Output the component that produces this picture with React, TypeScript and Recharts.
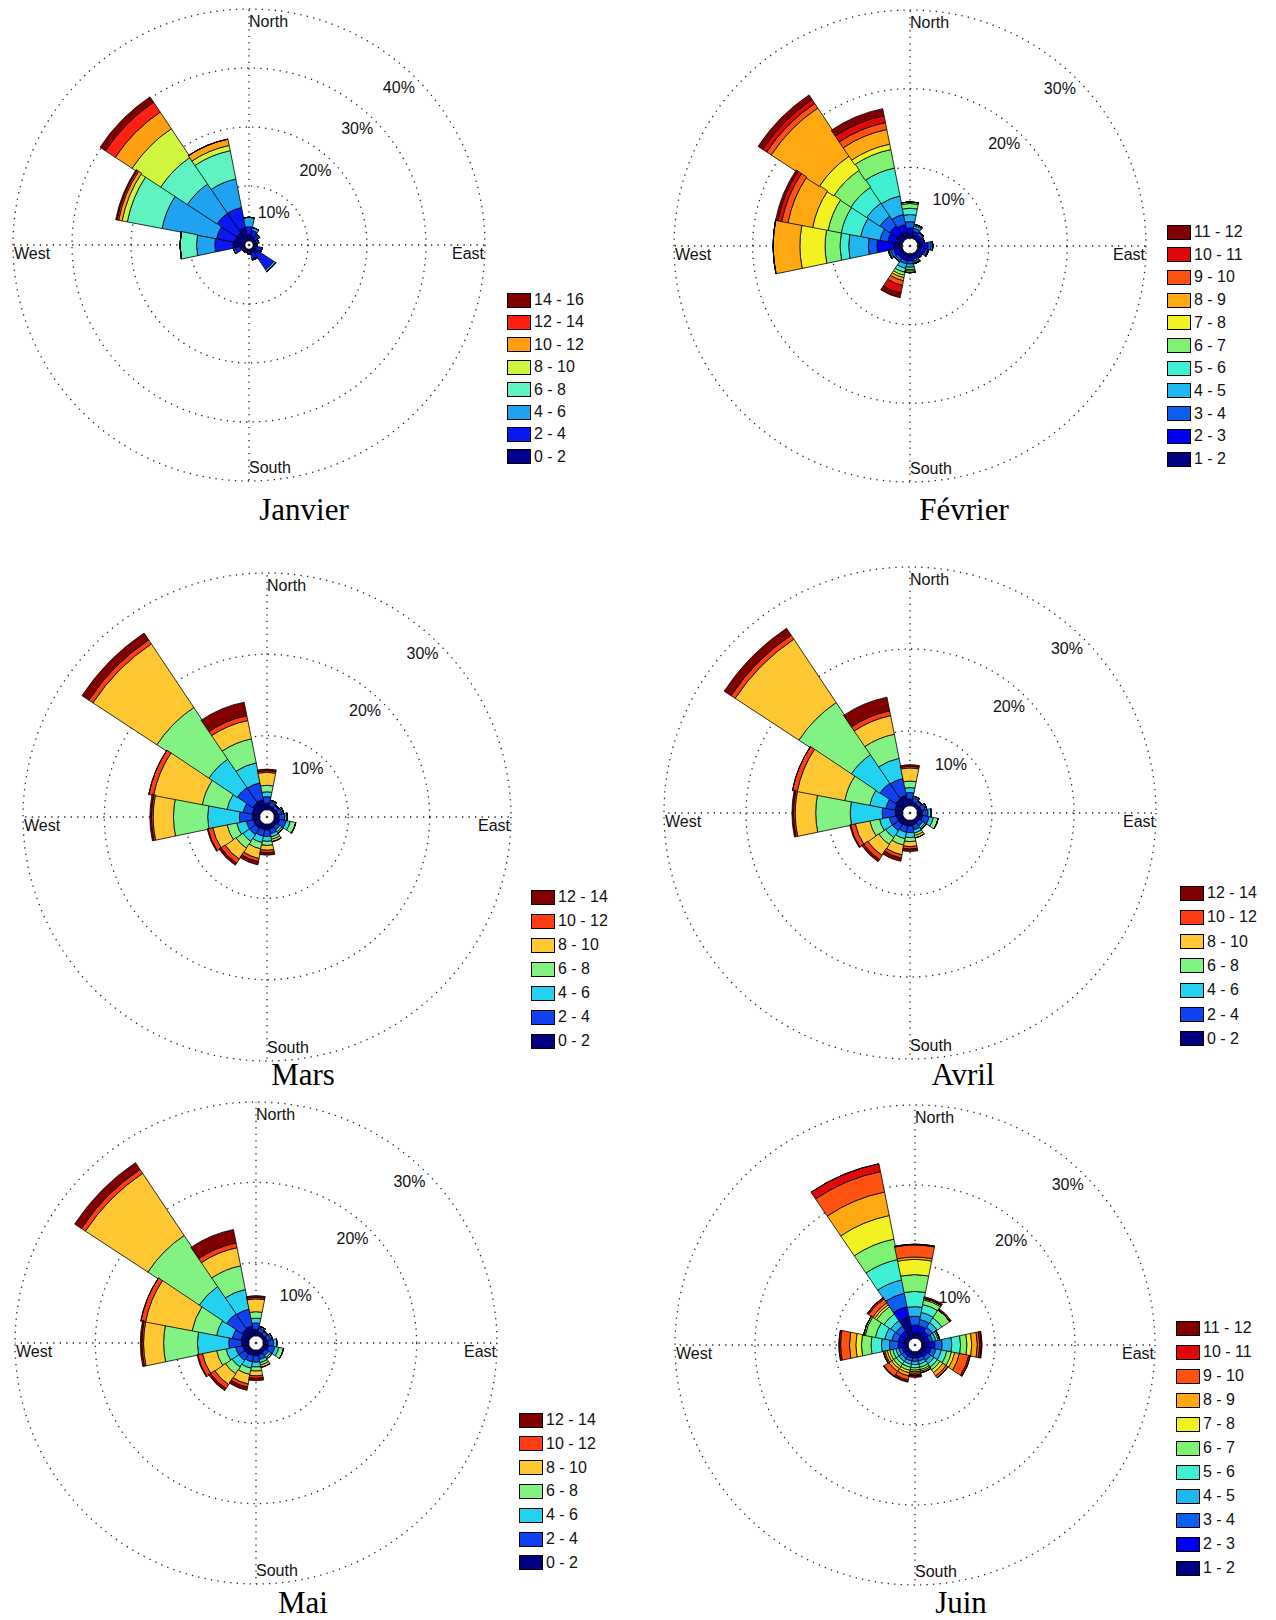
import React from "react";
import {
  RadialBarChart,
  RadialBar,
  PolarGrid,
  PolarAngleAxis,
  PolarRadiusAxis,
} from "recharts";

// 16 secteurs, dans le sens horaire depuis le nord
const directions = ["N", "NNE", "NE", "ENE", "E", "ESE", "SE", "SSE", "S", "SSW", "SW", "WSW", "W", "WNW", "NW", "NNW"];
const compassNames: Record<string, string> = { N: "North", E: "East", S: "South", W: "West" };

// classes de vitesse et couleurs (jet)
const binsJanvier = ["0 - 2", "2 - 4", "4 - 6", "6 - 8", "8 - 10", "10 - 12", "12 - 14", "14 - 16"];
const colorsJanvier = ["#00008c", "#0a18f2", "#1fa2f0", "#5ff3c2", "#cff53e", "#ffa012", "#ff2012", "#800000"];

const binsFevrier = ["1 - 2", "2 - 3", "3 - 4", "4 - 5", "5 - 6", "6 - 7", "7 - 8", "8 - 9", "9 - 10", "10 - 11", "11 - 12"];
const colorsFevrier = ["#000080", "#0000f0", "#0a5ef0", "#20b6f0", "#40f0d2", "#80f272", "#f2f222", "#ffa812", "#ff5212", "#e00808", "#800000"];

const binsMars = ["0 - 2", "2 - 4", "4 - 6", "6 - 8", "8 - 10", "10 - 12", "12 - 14"];
const colorsMars = ["#000080", "#1040f0", "#22d2f0", "#82f282", "#ffc832", "#ff3c12", "#800000"];

const ticks30 = [0, 10, 20, 30];
const ticks40 = [0, 10, 20, 30, 40];

// frequences (%) : une ligne par direction, une colonne par classe
const janvier = [
  [1.0, 1.4, 1.6],
  [0.8, 1.0, 0.5],
  [0.6, 0.7, 0.2],
  [0.5, 0.5],
  [0.4, 0.3],
  [0.5, 0.9, 0.2],
  [1.1, 3.2, 0.4],
  [0.6, 1.1, 0.2],
  [0.4, 0.4],
  [0.3, 0.3],
  [0.4, 0.3],
  [0.8, 0.9, 0.3],
  [2.0, 3.1, 3.1, 2.8],
  [1.8, 3.1, 9.4, 6.0, 0.9, 0.6, 0.3, 0.2],
  [1.8, 4.0, 6.0, 5.4, 5.8, 3.4, 2.0, 1.1],
  [2.3, 3.5, 4.9, 4.9, 0.9, 1.1],
];

const fevrier = [
  [0.6, 0.7, 0.8, 0.9, 0.8, 0.6, 0.2],
  [0.4, 0.5, 0.4, 0.3, 0.2],
  [0.3, 0.4, 0.3, 0.1],
  [0.3, 0.4, 0.2],
  [0.5, 0.8, 0.4, 0.2],
  [0.4, 0.6, 0.3, 0.1],
  [0.3, 0.4, 0.2],
  [0.3, 0.4, 0.3, 0.2, 0.1],
  [0.4, 0.5, 0.4, 0.4, 0.3, 0.2, 0.2],
  [0.4, 0.5, 0.4, 0.6, 0.5, 0.4, 0.3, 0.4, 0.6, 1.0, 0.6],
  [0.4, 0.5, 0.3, 0.2],
  [0.5, 0.6, 0.4, 0.2, 0.1],
  [1.1, 2.1, 1.1, 2.5, 1.1, 1.9, 3.2, 3.4],
  [0.9, 1.0, 1.0, 2.5, 2.5, 1.7, 2.0, 3.2, 0.8, 0.5, 0.3],
  [0.9, 1.2, 1.5, 2.0, 2.4, 2.6, 2.2, 7.3, 0.7, 0.6, 0.7],
  [0.8, 1.0, 1.3, 2.4, 3.6, 2.4, 0.7, 1.9, 0.9, 0.9, 0.9],
];

const mars = [
  [0.8, 0.8, 0.6, 0.8, 1.6, 0.2, 0.2],
  [0.5, 0.5, 0.2],
  [0.4, 0.4, 0.1],
  [0.5, 0.5, 0.2],
  [0.6, 0.7, 0.3],
  [0.7, 0.8, 0.5, 0.7],
  [0.5, 0.5, 0.3, 0.2],
  [0.6, 0.6, 0.4, 0.3, 0.3],
  [0.7, 0.8, 0.6, 0.5, 0.6, 0.3, 0.3],
  [0.7, 0.8, 0.8, 0.8, 1.2, 0.4, 0.4],
  [0.8, 0.9, 1.0, 1.0, 1.6, 0.6, 0.3],
  [0.8, 0.9, 1.2, 1.2, 1.8, 0.6, 0.1],
  [0.9, 1.6, 3.9, 4.2, 2.5, 0.2, 0.2],
  [1.0, 1.1, 2.0, 3.1, 6.1, 0.6],
  [1.2, 2.3, 4.2, 7.6, 9.4, 0.6, 1.0],
  [1.3, 2.1, 2.5, 3.0, 2.3, 0.6, 1.7],
];

const avril = [
  [0.8, 0.8, 0.6, 0.8, 1.6, 0.2, 0.2],
  [0.5, 0.5, 0.2],
  [0.4, 0.4, 0.1],
  [0.5, 0.5, 0.2],
  [0.6, 0.7, 0.4],
  [0.7, 0.8, 0.5, 0.6],
  [0.5, 0.5, 0.3, 0.2],
  [0.6, 0.6, 0.4, 0.3, 0.3],
  [0.7, 0.8, 0.6, 0.5, 0.6, 0.3, 0.3],
  [0.7, 0.8, 0.8, 0.8, 1.2, 0.4, 0.4],
  [0.8, 0.9, 1.0, 1.0, 1.6, 0.6, 0.3],
  [0.8, 0.9, 1.2, 1.2, 1.8, 0.6, 0.1],
  [0.9, 1.6, 3.9, 4.2, 2.5, 0.2, 0.2],
  [1.0, 1.1, 2.0, 3.1, 5.9, 0.6],
  [1.2, 2.3, 4.2, 7.6, 9.3, 0.6, 1.0],
  [1.3, 2.1, 2.5, 3.0, 2.3, 0.6, 1.7],
];

const mai = [
  [0.8, 0.8, 0.6, 0.8, 1.6, 0.2, 0.2],
  [0.5, 0.5, 0.2],
  [0.4, 0.4, 0.1],
  [0.5, 0.5, 0.2],
  [0.6, 0.7, 0.4],
  [0.7, 0.8, 0.5, 0.6],
  [0.5, 0.5, 0.3, 0.2],
  [0.6, 0.6, 0.4, 0.3, 0.3],
  [0.7, 0.8, 0.6, 0.5, 0.6, 0.3, 0.3],
  [0.7, 0.8, 0.8, 0.8, 1.2, 0.4, 0.4],
  [0.8, 0.9, 1.0, 1.0, 1.6, 0.6, 0.3],
  [0.8, 0.9, 1.2, 1.2, 1.8, 0.6, 0.1],
  [0.9, 1.6, 3.9, 4.2, 2.5, 0.2, 0.2],
  [1.0, 1.1, 2.0, 3.1, 5.9, 0.6],
  [1.2, 2.3, 4.1, 7.6, 9.3, 0.6, 1.0],
  [1.3, 2.1, 2.5, 3.0, 2.3, 0.6, 1.7],
];

const juin = [
  [0.65, 1.0, 1.1, 1.2, 1.9, 2.1, 1.9, 0.3, 1.5, 0.1],
  [0.8, 0.8, 0.8, 0.9, 1.0, 0.6, 0.2, 0, 0, 0, 0.2],
  [0.6, 0.6, 0.6, 0.7, 0.7, 1.2, 0, 0, 0, 0, 0.2],
  [0.5, 0.5, 0.4, 0.4, 0.3, 0.2],
  [0.85, 0.8, 0.9, 1.2, 1.1, 0.8, 0.6, 0.7, 0.3, 0.2, 0.1],
  [0.6, 0.6, 0.6, 0.7, 0.7, 0.6, 0.4, 0.6, 1.2, 0.2],
  [0.5, 0.5, 0.5, 0.5, 0.5, 0.4, 0.4, 0.5, 0.3],
  [0.4, 0.4, 0.4, 0.4, 0.4, 0.3, 0.2, 0.2],
  [0.4, 0.4, 0.4, 0.4, 0.4, 0.3, 0.2, 0.2, 0.2, 0.1, 0.2],
  [0.4, 0.4, 0.4, 0.4, 0.4, 0.4, 0.3, 0.4, 0.5, 0.2, 0.1],
  [0.4, 0.4, 0.4, 0.4, 0.4, 0.4, 0.3, 0.4, 0.7, 0.1],
  [0.4, 0.4, 0.4, 0.4, 0.4, 0.4, 0.3, 0.3, 0.2],
  [0.45, 0.8, 1.1, 1.0, 1.3, 1.2, 0.7, 0.8, 1.1, 0.2],
  [0.6, 0.7, 0.8, 0.9, 1.2, 1.3, 0.2],
  [0.6, 0.7, 0.7, 0.8, 1.0, 1.1, 0.3, 0.3, 0.6, 0.2],
  [2.75, 1.3, 1.7, 1.7, 2.6, 2.6, 3.0, 3.0, 2.6, 1.0],
];

type Rose = {
  title: string;
  bins: string[];
  colors: string[];
  calm: number;
  freq: number[][];
  ticks: number[];
  left: number;
  top: number;
  cx: number;
  cy: number;
  r: number;
  legendX: number;
  legendY: number;
  legendStep: number;
  titleX: number;
  titleY: number;
};

const roses: Rose[] = [
  { title: "Janvier", bins: binsJanvier, colors: colorsJanvier, calm: 0.7, freq: janvier, ticks: ticks40,
    left: 0, top: 0, cx: 249, cy: 245, r: 236, legendX: 507, legendY: 300, legendStep: 22.4, titleX: 304, titleY: 510 },
  { title: "Février", bins: binsFevrier, colors: colorsFevrier, calm: 1.0, freq: fevrier, ticks: ticks30,
    left: 638, top: 0, cx: 272, cy: 246, r: 236, legendX: 1167, legendY: 232, legendStep: 22.7, titleX: 964, titleY: 510 },
  { title: "Mars", bins: binsMars, colors: colorsMars, calm: 0.9, freq: mars, ticks: ticks30,
    left: 0, top: 540, cx: 267, cy: 277, r: 244, legendX: 531, legendY: 897, legendStep: 24, titleX: 303, titleY: 1075 },
  { title: "Avril", bins: binsMars, colors: colorsMars, calm: 0.9, freq: avril, ticks: ticks30,
    left: 638, top: 540, cx: 272, cy: 273, r: 246, legendX: 1180, legendY: 893, legendStep: 24.3, titleX: 963, titleY: 1075 },
  { title: "Mai", bins: binsMars, colors: colorsMars, calm: 0.9, freq: mai, ticks: ticks30,
    left: 0, top: 1080, cx: 256, cy: 263, r: 241, legendX: 519, legendY: 1420, legendStep: 23.8, titleX: 303, titleY: 1603 },
  { title: "Juin", bins: binsFevrier, colors: colorsFevrier, calm: 0.85, freq: juin, ticks: ticks30,
    left: 638, top: 1080, cx: 277, cy: 265, r: 240, legendX: 1176, legendY: 1328, legendStep: 24, titleX: 961, titleY: 1603 },
];

const SANS = "'Liberation Sans', Arial, Helvetica, sans-serif";
const SERIF = "'Liberation Serif', 'Times New Roman', Times, serif";

function WindRose({ rose }: { rose: Rose }) {
  const { cx, cy, r } = rose;
  const data = directions.map((dir, i) => {
    const row: Record<string, string | number> = { dir, calm: rose.calm };
    rose.bins.forEach((_, j) => {
      row["b" + j] = rose.freq[i][j] ?? 0;
    });
    return row;
  });

  const compassTick = (props: any) => {
    const key = props.payload?.value;
    const name = compassNames[key];
    if (!name) return <g />;
    let x = cx;
    let y = cy - r + 12;
    let anchor = "start";
    if (key === "S") y = cy + r - 14;
    if (key === "W") { x = cx - r + 1; y = cy + 8; }
    if (key === "E") { x = cx + r - 1; y = cy + 8; anchor = "end"; }
    return (
      <text x={x} y={y} textAnchor={anchor} dominantBaseline="central" fontFamily={SANS} fontSize={16} fill="#111">
        {name}
      </text>
    );
  };

  const pctTick = (props: any) => {
    const v = props.payload?.value;
    if (!v) return <g />;
    return (
      <text x={props.x - 1} y={props.y + 9} textAnchor="end" dominantBaseline="central" fontFamily={SANS} fontSize={16} fill="#111">
        {v}%
      </text>
    );
  };

  return (
    <div style={{ position: "absolute", left: rose.left, top: rose.top }}>
      <RadialBarChart
        width={638}
        height={540}
        data={data}
        layout="centric"
        cx={cx}
        cy={cy}
        innerRadius={0}
        outerRadius={r}
        startAngle={78.75}
        endAngle={-281.25}
        barCategoryGap={0}
        barGap={0}
        margin={{ top: 0, right: 0, bottom: 0, left: 0 }}
      >
        <PolarAngleAxis type="category" dataKey="dir" axisLine={false} tickLine={false} tick={compassTick} />
        <PolarRadiusAxis
          type="number"
          domain={[0, rose.ticks[rose.ticks.length - 1]]}
          ticks={rose.ticks}
          angle={45}
          axisLine={false}
          tickLine={false}
          tick={pctTick}
        />
        <RadialBar dataKey="calm" stackId="v" fill="none" stroke="none" isAnimationActive={false} />
        {rose.bins.map((b, j) => (
          <RadialBar
            key={b}
            dataKey={"b" + j}
            stackId="v"
            fill={rose.colors[j]}
            stroke="#000"
            strokeWidth={0.8}
            isAnimationActive={false}
          />
        ))}
        <PolarGrid gridType="circle" polarAngles={[0, 90, 180, 270]} stroke="#222" strokeWidth={1.3} strokeDasharray="1.3 5.2" />
      </RadialBarChart>
    </div>
  );
}

function RoseLegend({ rose }: { rose: Rose }) {
  const n = rose.bins.length;
  return (
    <>
      {rose.bins.map((_, i) => {
        const j = n - 1 - i;
        const yc = rose.legendY + i * rose.legendStep;
        return (
          <div key={j} style={{ position: "absolute", left: rose.legendX, top: yc - 8, height: 16, display: "flex", alignItems: "center" }}>
            <div style={{ width: 24, height: 15, boxSizing: "border-box", border: "1px solid #000", background: rose.colors[j] }} />
            <span style={{ marginLeft: 3, fontFamily: SANS, fontSize: 16, lineHeight: "16px", color: "#111", whiteSpace: "nowrap" }}>
              {rose.bins[j]}
            </span>
          </div>
        );
      })}
    </>
  );
}

export default function App() {
  return (
    <div style={{ position: "absolute", left: 0, top: 0, width: 1276, height: 1620, background: "#fff", overflow: "hidden" }}>
      {roses.map((rose) => (
        <React.Fragment key={rose.title}>
          <WindRose rose={rose} />
          <RoseLegend rose={rose} />
          <div
            style={{
              position: "absolute",
              left: rose.titleX - 100,
              top: rose.titleY - 18,
              width: 200,
              textAlign: "center",
              fontFamily: SERIF,
              fontSize: 31,
              lineHeight: "36px",
              color: "#000",
            }}
          >
            {rose.title}
          </div>
        </React.Fragment>
      ))}
    </div>
  );
}
